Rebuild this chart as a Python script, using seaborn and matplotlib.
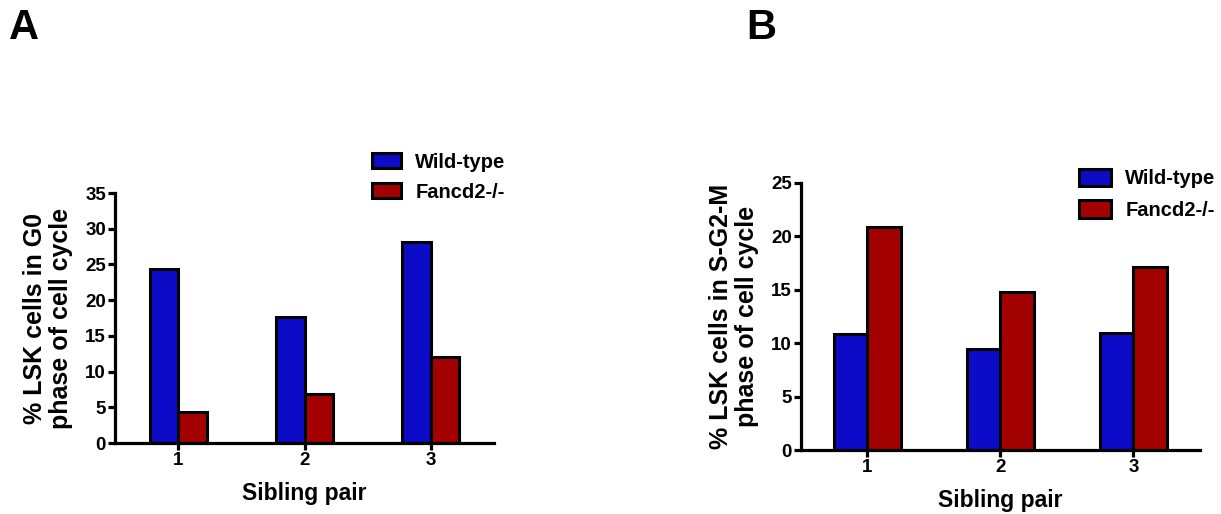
import matplotlib
matplotlib.use("Agg")
import matplotlib.pyplot as plt
import seaborn as sns
import pandas as pd

# data
pairs = ["1", "2", "3"]
genotypes = ["Wild-type", "Fancd2-/-"]
g0_wt = [24.4, 17.6, 28.1]
g0_ko = [4.3, 6.9, 12.1]
sg2m_wt = [10.9, 9.5, 11.0]
sg2m_ko = [20.9, 14.8, 17.1]

colors = {"Wild-type": "#0c0cc8", "Fancd2-/-": "#a30000"}


def make_df(wt, ko):
    rows = []
    for p, a, b in zip(pairs, wt, ko):
        rows.append({"pair": p, "genotype": genotypes[0], "value": a})
        rows.append({"pair": p, "genotype": genotypes[1], "value": b})
    return pd.DataFrame(rows)


sns.set_theme(style="ticks")
plt.rcParams["font.family"] = ["Liberation Sans", "DejaVu Sans"]
plt.rcParams["font.weight"] = "bold"
plt.rcParams["text.color"] = "black"
plt.rcParams["axes.labelcolor"] = "black"

fig = plt.figure(figsize=(12.21, 5.14), dpi=100)
ax_a = fig.add_axes([0.0942, 0.1381, 0.3104, 0.4864])
ax_b = fig.add_axes([0.656, 0.1245, 0.3268, 0.5195])


def draw(ax, df, width, ylim, yticks, ylabel, legend_anchor, hl, hh, ls):
    sns.barplot(data=df, x="pair", y="value", hue="genotype", hue_order=genotypes,
                palette=colors, width=width, edgecolor="black", linewidth=2.2,
                saturation=1, ax=ax)
    ax.set_xlim(-0.5, 2.5)
    ax.set_ylim(*ylim)
    ax.set_yticks(yticks)
    for s in ["top", "right"]:
        ax.spines[s].set_visible(False)
    for s in ["left", "bottom"]:
        ax.spines[s].set_linewidth(2.3)
        ax.spines[s].set_color("black")
    ax.tick_params(axis="both", direction="out", length=5, width=2.3,
                   labelsize=13.5, colors="black", pad=1.5)
    for lab in ax.get_xticklabels() + ax.get_yticklabels():
        lab.set_fontweight("bold")
    ax.set_xlabel("Sibling pair", fontsize=16.5, fontweight="bold", labelpad=9)
    ax.set_ylabel(ylabel, fontsize=18, fontweight="bold", labelpad=9,
                  linespacing=1.1)
    handles, labels = ax.get_legend_handles_labels()
    ax.legend(handles, labels, loc="upper left", bbox_to_anchor=legend_anchor,
              bbox_transform=fig.transFigure, frameon=False, borderpad=0,
              borderaxespad=0, prop={"size": 14.5, "weight": "bold"},
              handlelength=hl, handleheight=hh, labelspacing=ls,
              handletextpad=0.7)


draw(ax_a, make_df(g0_wt, g0_ko), 0.45, (0, 35), range(0, 36, 5),
     "% LSK cells in G0\nphase of cell cycle", (0.3047, 0.703), 1.45, 0.75, 0.55)
draw(ax_b, make_df(sg2m_wt, sg2m_ko), 0.51, (0, 25), range(0, 26, 5),
     "% LSK cells in S-G2-M\nphase of cell cycle", (0.8837, 0.672), 1.6, 0.95, 0.6)

fig.text(0.007, 0.985, "A", fontsize=30, fontweight="bold", va="top")
fig.text(0.611, 0.985, "B", fontsize=30, fontweight="bold", va="top")

fig.savefig("out.png", dpi=100)
